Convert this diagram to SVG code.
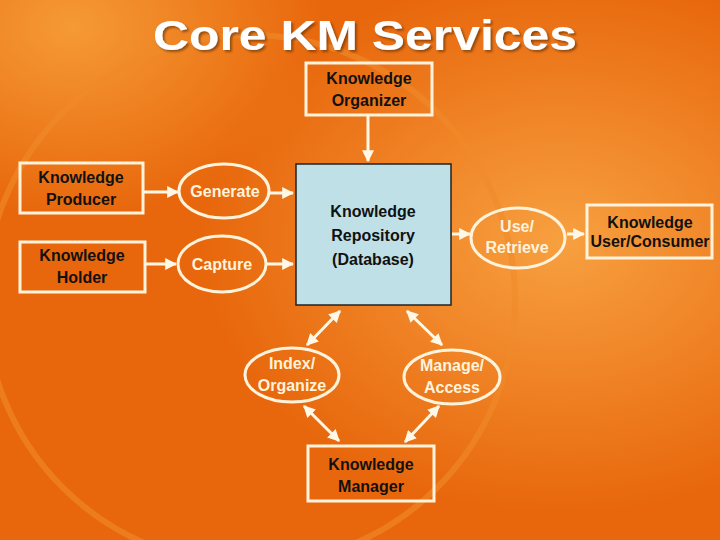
<svg xmlns="http://www.w3.org/2000/svg" width="720" height="540" viewBox="0 0 720 540">
<defs>
<radialGradient id="g1" cx="0.78" cy="0.45" r="0.5"><stop offset="0" stop-color="#f7a040"/><stop offset="1" stop-color="#f7a040" stop-opacity="0"/></radialGradient>
<radialGradient id="g2" cx="0.1" cy="0.05" r="0.35"><stop offset="0" stop-color="#f59a35"/><stop offset="1" stop-color="#f59a35" stop-opacity="0"/></radialGradient>
<filter id="sh"><feDropShadow dx="2" dy="2" stdDeviation="1" flood-color="#5a2a00" flood-opacity="0.6"/></filter>
<marker id="ah" viewBox="0 0 10 10" refX="9" refY="5" markerWidth="4" markerHeight="4" orient="auto-start-reverse"><path d="M0,0 L10,5 L0,10 z" fill="#fff8e6"/></marker>
<style>
.box{fill:none;stroke:#fff3dc;stroke-width:3}
.ell{fill:none;stroke:#fff3dc;stroke-width:3}
.bt{font-family:"Liberation Sans",Arial,sans-serif;font-weight:bold;font-size:16px;fill:#111;text-anchor:middle}
.et{font-family:"Liberation Sans",Arial,sans-serif;font-weight:bold;font-size:16px;fill:#fff3dc;text-anchor:middle}
.c{stroke:#fff8e6;stroke-width:3;fill:none;marker-end:url(#ah)}
.d{stroke:#fff8e6;stroke-width:3;fill:none;marker-end:url(#ah);marker-start:url(#ah)}
</style>
</defs>
<rect width="720" height="540" fill="#e8670c"/>
<rect width="720" height="540" fill="url(#g1)"/>
<rect width="720" height="540" fill="url(#g2)"/>
<circle cx="250" cy="300" r="265" fill="none" stroke="#f08a2a" stroke-width="6" opacity="0.6"/>
<text x="153" y="50" textLength="424" lengthAdjust="spacingAndGlyphs" font-family="Liberation Sans,Arial,sans-serif" font-weight="bold" font-size="42" fill="#ffffff" filter="url(#sh)">Core KM Services</text>
<g id="connectors">
<line class="c" x1="368" y1="116" x2="368" y2="161"/>
<line class="c" x1="144" y1="192" x2="178" y2="192"/>
<line class="c" x1="270" y1="193" x2="293" y2="193"/>
<line class="c" x1="146" y1="264" x2="176" y2="264"/>
<line class="c" x1="267" y1="264" x2="293" y2="264"/>
<line class="c" x1="452" y1="234" x2="470" y2="234"/>
<line class="c" x1="567" y1="234" x2="584" y2="234"/>
<line class="d" x1="340" y1="311" x2="307" y2="345"/>
<line class="d" x1="407" y1="311" x2="442" y2="345"/>
<line class="d" x1="304" y1="406" x2="339" y2="441"/>
<line class="d" x1="439" y1="406" x2="405" y2="442"/>
</g>
<g id="organizer"><rect class="box" x="306" y="63" width="126" height="52"/><text class="bt" x="369" y="84">Knowledge</text><text class="bt" x="369" y="106">Organizer</text></g>
<g id="repository"><rect x="296" y="164" width="155" height="141" fill="#bfe0e6" stroke="#222" stroke-width="1.5"/><text class="bt" x="373" y="217" font-size="19">Knowledge</text><text class="bt" x="373" y="241" font-size="19">Repository</text><text class="bt" x="373" y="265" font-size="19">(Database)</text></g>
<g id="producer"><rect class="box" x="20" y="163" width="123" height="50"/><text class="bt" x="81" y="183">Knowledge</text><text class="bt" x="81" y="205">Producer</text></g>
<g id="holder"><rect class="box" x="20" y="242" width="125" height="50"/><text class="bt" x="82" y="261">Knowledge</text><text class="bt" x="82" y="283">Holder</text></g>
<g id="generate"><ellipse class="ell" cx="224" cy="191" rx="45" ry="27"/><text class="et" x="225" y="197">Generate</text></g>
<g id="capture"><ellipse class="ell" cx="222" cy="264" rx="44" ry="28"/><text class="et" x="222" y="270">Capture</text></g>
<g id="retrieve"><ellipse class="ell" cx="518" cy="238" rx="47" ry="30"/><text class="et" x="517" y="232">Use/</text><text class="et" x="517" y="253">Retrieve</text></g>
<g id="consumer"><rect class="box" x="587" y="205" width="125" height="53"/><text class="bt" x="650" y="228">Knowledge</text><text class="bt" x="650" y="247" font-size="14" font-weight="normal">User/Consumer</text></g>
<g id="index"><ellipse class="ell" cx="292" cy="375" rx="47" ry="27"/><text class="et" x="292" y="369">Index/</text><text class="et" x="292" y="391">Organize</text></g>
<g id="manage"><ellipse class="ell" cx="452" cy="377" rx="48" ry="27"/><text class="et" x="452" y="371">Manage/</text><text class="et" x="452" y="393">Access</text></g>
<g id="manager"><rect class="box" x="308" y="446" width="126" height="55"/><text class="bt" x="371" y="470">Knowledge</text><text class="bt" x="371" y="492">Manager</text></g>
</svg>
